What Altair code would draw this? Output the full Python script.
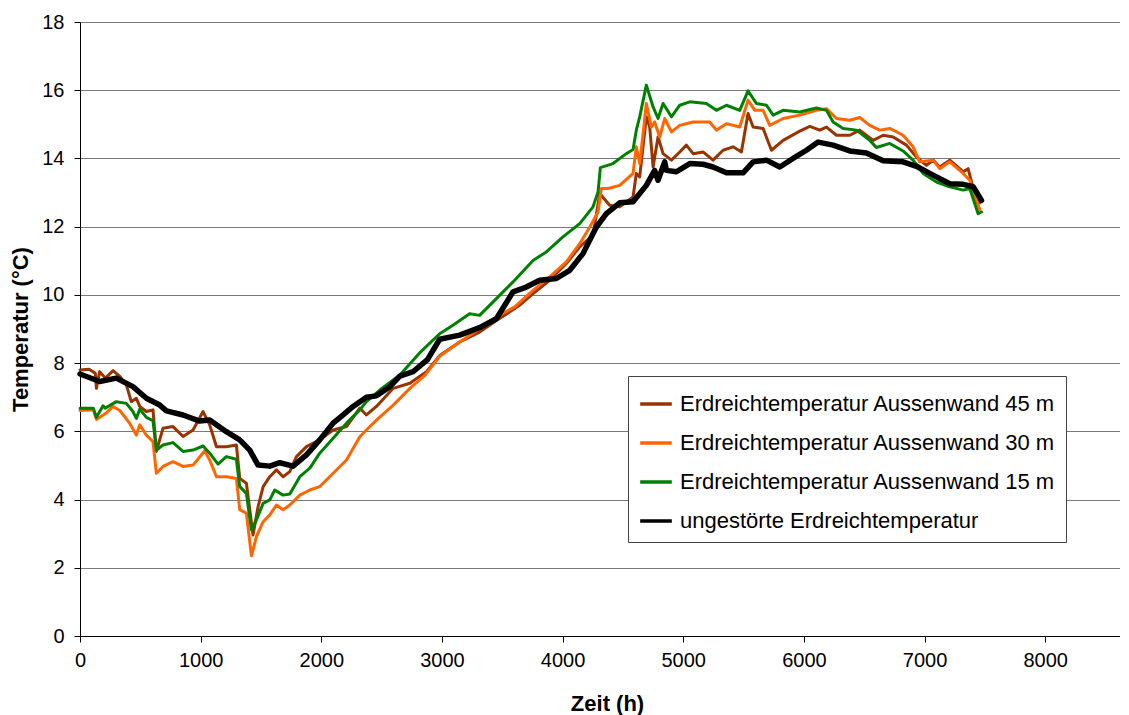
import altair as alt
import pandas as pd

# ---- data ----
series_names = [
    "Erdreichtemperatur Aussenwand 45 m",
    "Erdreichtemperatur Aussenwand 30 m",
    "Erdreichtemperatur Aussenwand 15 m",
    "ungestörte Erdreichtemperatur",
]
series_colors = ["#993300", "#FF6600", "#008000", "#000000"]

hours_45 = [0, 75, 127, 136, 163, 210, 274, 330, 384, 425, 467, 495, 550, 605, 633, 688, 771, 854,
            937, 1020, 1075, 1131, 1213, 1296, 1324, 1379, 1434, 1476, 1518, 1573, 1628, 1683,
            1739, 1794, 1877, 1987, 2098, 2209, 2319, 2374, 2457, 2596, 2734, 2872, 2981, 3147,
            3312, 3451, 3603, 3645, 3755, 3893, 4031, 4142, 4252, 4308, 4390, 4473, 4584, 4611,
            4639, 4694, 4722, 4750, 4791, 4833, 4902, 4971, 5026, 5082, 5164, 5247, 5330, 5413,
            5482, 5537, 5579, 5662, 5731, 5828, 5966, 6049, 6131, 6187, 6270, 6380, 6463, 6574,
            6657, 6740, 6850, 6933, 7016, 7071, 7126, 7209, 7320, 7361, 7403, 7458]
temp_45 = [7.80, 7.82, 7.70, 7.26, 7.75, 7.56, 7.78, 7.61, 7.36, 6.87, 6.97, 6.73, 6.58, 6.63, 5.41,
           6.09, 6.14, 5.85, 6.04, 6.58, 6.19, 5.55, 5.55, 5.60, 4.62, 4.48, 2.96, 3.79, 4.38,
           4.67, 4.87, 4.67, 4.82, 5.26, 5.55, 5.75, 6.04, 6.14, 6.68, 6.48, 6.73, 7.26, 7.41,
           7.75, 8.22, 8.62, 8.91, 9.25, 9.60, 9.70, 10.04, 10.43, 10.92, 11.41, 11.75, 12.97,
           12.63, 12.58, 12.87, 13.56, 13.46, 15.22, 14.92, 13.75, 14.63, 14.14, 13.95, 14.19,
           14.39, 14.14, 14.19, 13.95, 14.24, 14.34, 14.19, 15.32, 14.92, 14.88, 14.24, 14.53,
           14.80, 14.94, 14.83, 14.92, 14.68, 14.68, 14.83, 14.53, 14.68, 14.63, 14.39, 14.04,
           13.80, 13.95, 13.75, 13.95, 13.61, 13.70, 13.12, 12.70]

hours_30 = [0, 110, 136, 218, 274, 330, 411, 467, 495, 550, 605, 633, 688, 771, 854, 937, 1034,
            1075, 1131, 1213, 1296, 1324, 1379, 1421, 1462, 1518, 1573, 1628, 1683, 1739, 1822,
            1905, 1987, 2098, 2209, 2319, 2374, 2457, 2596, 2734, 2860, 2981, 3147, 3312, 3451,
            3603, 3755, 3893, 4031, 4142, 4225, 4294, 4321, 4377, 4473, 4584, 4611, 4639, 4667,
            4694, 4736, 4763, 4805, 4846, 4902, 4971, 5082, 5219, 5275, 5358, 5468, 5537, 5593,
            5662, 5717, 5828, 5966, 6104, 6187, 6270, 6380, 6463, 6546, 6629, 6712, 6822, 6905,
            6960, 7071, 7126, 7209, 7320, 7375, 7430, 7458]
temp_30 = [6.61, 6.63, 6.35, 6.54, 6.73, 6.61, 6.24, 5.89, 6.19, 5.89, 5.70, 4.77, 4.97, 5.11,
           4.97, 5.01, 5.43, 5.16, 4.67, 4.67, 4.62, 3.70, 3.60, 2.35, 2.91, 3.35, 3.55, 3.84,
           3.70, 3.84, 4.13, 4.28, 4.38, 4.77, 5.16, 5.84, 6.04, 6.33, 6.77, 7.26, 7.65, 8.20,
           8.62, 9.01, 9.35, 9.65, 10.13, 10.53, 10.97, 11.50, 11.99, 12.43, 13.12, 13.12, 13.21,
           13.56, 14.34, 13.85, 14.73, 15.61, 14.92, 15.07, 14.63, 15.17, 14.78, 14.97, 15.07,
           15.07, 14.83, 15.02, 14.92, 15.71, 15.41, 15.41, 14.97, 15.17, 15.27, 15.41, 15.46,
           15.17, 15.12, 15.20, 14.97, 14.83, 14.88, 14.68, 14.34, 13.90, 13.95, 13.70, 13.90,
           13.56, 13.36, 12.77, 12.50]

hours_15 = [0, 110, 136, 191, 210, 301, 384, 439, 467, 495, 550, 605, 633, 688, 771, 854, 937,
            1020, 1075, 1144, 1213, 1296, 1324, 1379, 1421, 1462, 1518, 1573, 1614, 1683, 1739,
            1822, 1905, 1987, 2098, 2209, 2319, 2374, 2485, 2651, 2815, 2981, 3091, 3229, 3312,
            3451, 3589, 3755, 3865, 4003, 4142, 4252, 4294, 4313, 4418, 4528, 4584, 4611, 4639,
            4694, 4750, 4791, 4833, 4902, 4971, 5054, 5192, 5275, 5358, 5468, 5537, 5606, 5690,
            5745, 5828, 5966, 6104, 6187, 6242, 6325, 6436, 6546, 6601, 6712, 6822, 6905, 6988,
            7099, 7209, 7320, 7375, 7444, 7472]
temp_15 = [6.68, 6.68, 6.41, 6.75, 6.68, 6.87, 6.82, 6.58, 6.38, 6.65, 6.41, 6.31, 5.45, 5.60,
           5.67, 5.41, 5.45, 5.57, 5.36, 5.04, 5.26, 5.18, 4.38, 4.18, 3.11, 3.40, 3.89, 3.99,
           4.28, 4.13, 4.16, 4.67, 4.92, 5.36, 5.80, 6.24, 6.63, 6.87, 7.21, 7.65, 8.30, 8.86,
           9.11, 9.45, 9.40, 9.89, 10.38, 11.01, 11.26, 11.70, 12.09, 12.58, 13.02, 13.73, 13.85,
           14.14, 14.26, 14.83, 15.22, 16.15, 15.51, 15.17, 15.61, 15.22, 15.56, 15.66, 15.61,
           15.41, 15.56, 15.41, 15.98, 15.61, 15.56, 15.27, 15.41, 15.36, 15.48, 15.41, 15.07,
           14.88, 14.83, 14.53, 14.32, 14.44, 14.22, 13.95, 13.56, 13.31, 13.17, 13.07, 13.12,
           12.38, 12.43]

hours_base = [0, 163, 301, 439, 550, 661, 716, 854, 992, 1075, 1213, 1324, 1407, 1476, 1573, 1656,
              1766, 1877, 1987, 2098, 2181, 2264, 2374, 2457, 2568, 2651, 2761, 2880, 2981, 3147,
              3312, 3451, 3589, 3699, 3810, 3948, 4059, 4169, 4280, 4363, 4473, 4584, 4694, 4763,
              4791, 4846, 4860, 4943, 5054, 5164, 5247, 5358, 5496, 5579, 5690, 5800, 5910, 6021,
              6118, 6242, 6380, 6518, 6657, 6822, 6933, 7071, 7209, 7320, 7403, 7472]
temp_base = [7.68, 7.46, 7.56, 7.31, 6.97, 6.77, 6.60, 6.48, 6.30, 6.33, 5.99, 5.75, 5.45, 5.01,
             4.98, 5.08, 4.98, 5.31, 5.75, 6.24, 6.48, 6.73, 7.00, 7.04, 7.31, 7.62, 7.75, 8.10,
             8.70, 8.82, 9.04, 9.30, 10.09, 10.23, 10.43, 10.48, 10.72, 11.21, 11.99, 12.38, 12.70,
             12.73, 13.21, 13.65, 13.36, 13.90, 13.65, 13.61, 13.85, 13.83, 13.75, 13.58, 13.58,
             13.90, 13.95, 13.75, 14.00, 14.24, 14.48, 14.39, 14.22, 14.16, 13.93, 13.90, 13.77,
             13.51, 13.26, 13.24, 13.17, 12.77]

y_ticks = list(range(0, 19, 2))
x_ticks = list(range(0, 8001, 1000))

# ---- long table ----
frames = []
for i, (name, hs, ts) in enumerate(zip(series_names,
                                       [hours_45, hours_30, hours_15, hours_base],
                                       [temp_45, temp_30, temp_15, temp_base])):
    frames.append(pd.DataFrame({"Zeit": hs, "Temperatur": ts, "Serie": name, "ord": i}))
df = pd.concat(frames, ignore_index=True)

FONT = "Liberation Sans"

x_enc = alt.X("Zeit:Q",
              scale=alt.Scale(domain=[0, 8620], nice=False, zero=True),
              axis=alt.Axis(title="Zeit (h)", values=x_ticks, grid=False, format="d",
                            domainColor="black", tickColor="black", tickSize=6,
                            labelFont=FONT, labelFontSize=20, labelColor="black",
                            labelPadding=8, labelFlush=False,
                            titleFont=FONT, titleFontSize=22, titleFontWeight="bold",
                            titleColor="black", titleX=527, titleY=67,
                            titleBaseline="middle", titleAlign="center"))
y_enc = alt.Y("Temperatur:Q",
              scale=alt.Scale(domain=[0, 18], nice=False),
              axis=alt.Axis(title="Temperatur (°C)", values=y_ticks, grid=True,
                            gridColor="#7a7a7a", gridWidth=1,
                            domainColor="black", tickColor="black", tickSize=6,
                            labelFont=FONT, labelFontSize=20, labelColor="black",
                            labelPadding=10,
                            titleFont=FONT, titleFontSize=22, titleFontWeight="bold",
                            titleColor="black", titleX=-60, titleY=307, titleAngle=270,
                            titleBaseline="middle", titleAlign="center"))
color_enc = alt.Color("Serie:N",
                      scale=alt.Scale(domain=series_names, range=series_colors),
                      legend=alt.Legend(title=None, orient="none", legendX=548, legendY=354,
                                        fillColor="white", strokeColor="#444",
                                        padding=10, rowPadding=10,
                                        symbolType="stroke", symbolSize=1000,
                                        symbolStrokeWidth=3.5,
                                        labelFont=FONT, labelFontSize=22, labelColor="black",
                                        labelOffset=6, labelLimit=500))

base = alt.Chart(df)

wall = base.transform_filter(
    alt.datum.ord < 3
).mark_line(strokeWidth=3, strokeJoin="round", strokeCap="round").encode(
    x=x_enc, y=y_enc, color=color_enc, order=alt.Order("ord:Q")
)

undisturbed = base.transform_filter(
    alt.datum.ord == 3
).mark_line(strokeWidth=5.5, strokeJoin="round", strokeCap="round").encode(
    x=x_enc, y=y_enc, color=color_enc
)

chart = alt.layer(wall, undisturbed).properties(
    width=1040,
    height=614,
    autosize=alt.AutoSizeParams(type="none"),
    padding={"left": 72, "top": 14, "right": 0, "bottom": 84},
).configure_view(
    stroke=None
).configure(
    background="white"
)

chart.save("out.html", embed_options={"renderer": "svg", "actions": False})
